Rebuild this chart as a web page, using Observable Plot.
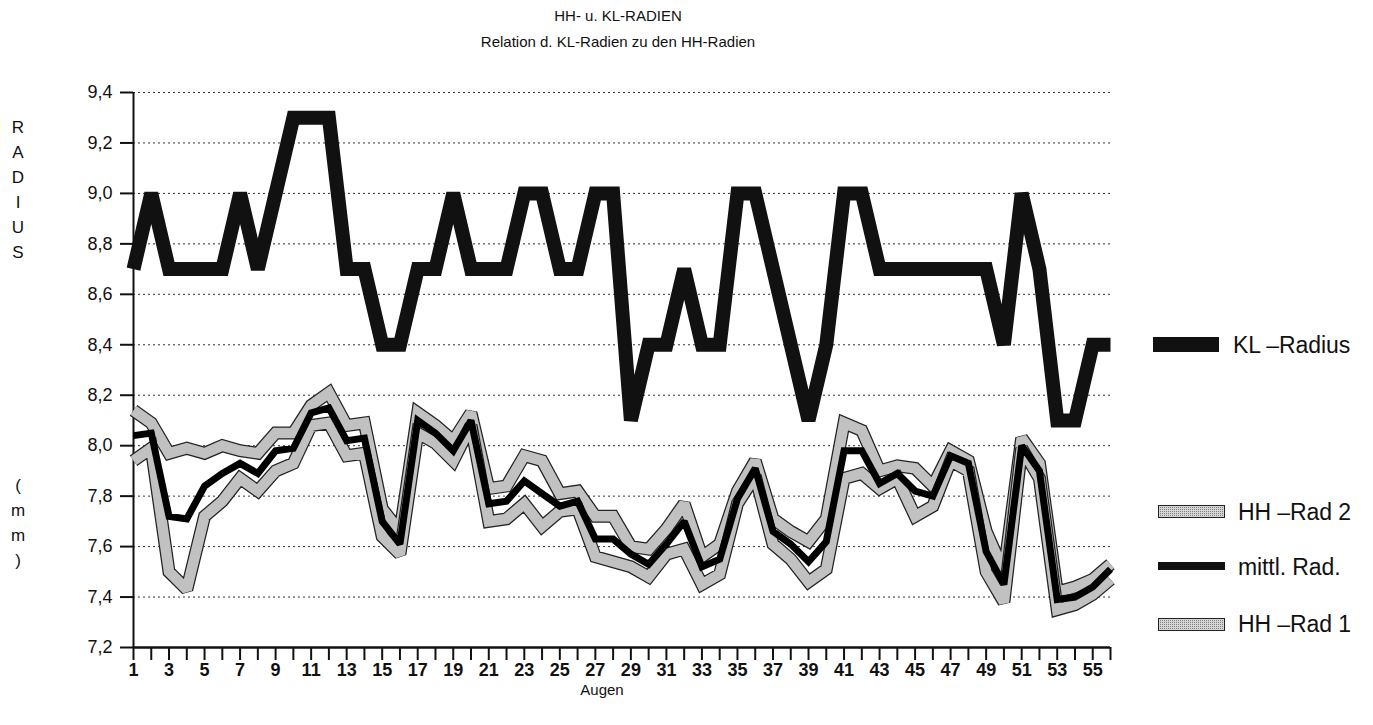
<!DOCTYPE html>
<html><head><meta charset="utf-8">
<script src="https://cdn.jsdelivr.net/npm/d3@7"></script>
<script src="https://cdn.jsdelivr.net/npm/@observablehq/plot@0.6"></script>
<style>
body{margin:0;background:#fff;font-family:"Liberation Sans",Arial,sans-serif;color:#111;}
#wrap{position:relative;width:1373px;height:725px;overflow:hidden;}
.t{position:absolute;left:418px;width:400px;text-align:center;font-size:15px;line-height:18px;}
.yl{position:absolute;left:8px;width:20px;text-align:center;font-size:17px;line-height:18px;}
#chart{position:absolute;left:0;top:60px;}
.leg{position:absolute;font-size:23px;line-height:26px;letter-spacing:-0.1px;}
.sw{position:absolute;}
</style></head><body>
<svg width="0" height="0" style="position:absolute">
 <defs>
  <pattern id="stip" width="2" height="2" patternUnits="userSpaceOnUse">
   <rect width="2" height="2" fill="#d6d6d6"/>
   <rect width="1" height="1" fill="#808080"/>
  </pattern>
 </defs>
</svg>
<div id="wrap">
 <div class="t" style="top:7px">HH- u. KL-RADIEN</div>
 <div class="t" style="top:33px">Relation d. KL-Radien zu den HH-Radien</div>
 <div id="ytitle"></div>
 <div id="chart"></div>
 <div class="t" style="top:681px;left:402px">Augen</div>
 <div id="legend"></div>
</div>
<script>
// ---- data ----
const augen = [1,2,3,4,5,6,7,8,9,10,11,12,13,14,15,16,17,18,19,20,21,22,23,24,25,26,27,28,29,30,31,32,33,34,35,36,37,38,39,40,41,42,43,44,45,46,47,48,49,50,51,52,53,54,55,56];
const klRadius = [8.7,9.0,8.7,8.7,8.7,8.7,9.0,8.7,9.0,9.3,9.3,9.3,8.7,8.7,8.4,8.4,8.7,8.7,9.0,8.7,8.7,8.7,9.0,9.0,8.7,8.7,9.0,9.0,8.1,8.4,8.4,8.7,8.4,8.4,9.0,9.0,8.7,8.4,8.1,8.4,9.0,9.0,8.7,8.7,8.7,8.7,8.7,8.7,8.7,8.4,9.0,8.7,8.1,8.1,8.4,8.4];
const hhRad2 = [8.14,8.09,7.97,7.99,7.97,8.00,7.98,7.97,8.05,8.05,8.16,8.21,8.08,8.09,7.75,7.66,8.13,8.08,8.02,8.13,7.83,7.84,7.96,7.94,7.81,7.82,7.72,7.72,7.60,7.59,7.67,7.77,7.56,7.61,7.82,7.94,7.71,7.66,7.62,7.71,8.09,8.06,7.90,7.92,7.91,7.84,7.98,7.94,7.66,7.50,8.03,7.93,7.42,7.44,7.47,7.53];
const mittlRad = [8.04,8.05,7.72,7.71,7.84,7.89,7.93,7.89,7.98,7.99,8.13,8.15,8.02,8.03,7.70,7.61,8.10,8.05,7.98,8.10,7.77,7.78,7.86,7.81,7.76,7.78,7.63,7.63,7.57,7.53,7.61,7.70,7.52,7.55,7.79,7.91,7.66,7.61,7.54,7.62,7.98,7.98,7.85,7.89,7.82,7.80,7.96,7.93,7.58,7.45,8.00,7.90,7.39,7.40,7.44,7.51];
const hhRad1 = [7.94,7.99,7.50,7.43,7.72,7.78,7.87,7.82,7.90,7.93,8.08,8.09,7.96,7.97,7.64,7.57,8.05,8.01,7.94,8.08,7.70,7.71,7.77,7.68,7.74,7.75,7.56,7.54,7.52,7.48,7.57,7.59,7.45,7.49,7.77,7.88,7.61,7.55,7.46,7.51,7.87,7.89,7.83,7.87,7.72,7.76,7.94,7.90,7.50,7.38,7.99,7.87,7.35,7.37,7.41,7.47];
const yTicks = [7.2,7.4,7.6,7.8,8.0,8.2,8.4,8.6,8.8,9.0,9.2,9.4];
const gridVals = [7.4,7.6,7.8,8.0,8.2,8.4,8.6,8.8,9.0,9.2,9.4];
const xTickLabels = [1,3,5,7,9,11,13,15,17,19,21,23,25,27,29,31,33,35,37,39,41,43,45,47,49,51,53,55];
const yTitleTop = ["R","A","D","I","U","S"];
const yTitleBottom = ["(","m","m",")"];
const legendItems = ["KL \u2013Radius","HH \u2013Rad 2","mittl. Rad.","HH \u2013Rad 1"];

const rows = augen.map((a, i) => ({a, kl: klRadius[i], h2: hhRad2[i], m: mittlRad[i], h1: hhRad1[i]}));
const fmt = d => d.toFixed(1).replace(".", ",");

function band(key) {
  return [
    Plot.lineY(rows, {x: "a", y: key, stroke: "#222", strokeWidth: 13, strokeLinecap: "butt", strokeLinejoin: "miter", strokeMiterlimit: 2}),
    Plot.lineY(rows, {x: "a", y: key, stroke: "url(#stip)", strokeWidth: 10.5, strokeLinecap: "butt", strokeLinejoin: "miter", strokeMiterlimit: 2})
  ];
}

const chart = Plot.plot({
  width: 1140, height: 627,
  marginTop: 32, marginBottom: 40, marginLeft: 133, marginRight: 30,
  x: {domain: [1, 56]},
  y: {domain: [7.2, 9.4]},
  style: {fontFamily: "'Liberation Sans', Arial, sans-serif", background: "transparent", overflow: "visible", color: "#111"},
  marks: [
    Plot.ruleY(gridVals, {stroke: "#333", strokeWidth: 1, strokeDasharray: "2,3"}),
    Plot.axisY({ticks: yTicks, tickFormat: fmt, tickSize: 13, tickPadding: 8, fontSize: 18, strokeWidth: 2, label: null}),
    Plot.axisX({ticks: augen, tickFormat: d => xTickLabels.includes(d) ? String(d) : "", tickSize: 13, tickPadding: 3, fontSize: 18, fontWeight: "bold", strokeWidth: 2, label: null}),
    Plot.ruleX([1], {strokeWidth: 2}),
    Plot.ruleY([7.2], {strokeWidth: 2.5}),
    Plot.lineY(rows, {x: "a", y: "kl", stroke: "#111", strokeWidth: 14, strokeLinecap: "butt", strokeLinejoin: "miter", strokeMiterlimit: 1.6}),
    ...band("h2"),
    ...band("h1"),
    Plot.lineY(rows, {x: "a", y: "m", stroke: "#000", strokeWidth: 7, strokeLinecap: "butt", strokeLinejoin: "miter", strokeMiterlimit: 2})
  ]
});
document.getElementById("chart").appendChild(chart);

// y-axis title (stacked letters)
const yt = document.getElementById("ytitle");
yTitleTop.forEach((c, i) => {
  const d = document.createElement("div"); d.className = "yl"; d.textContent = c;
  d.style.top = (119 + i * 25) + "px"; yt.appendChild(d);
});
yTitleBottom.forEach((c, i) => {
  const d = document.createElement("div"); d.className = "yl"; d.textContent = c;
  d.style.top = (477 + i * 25) + "px"; yt.appendChild(d);
});

// legend
const lg = document.getElementById("legend");
const legPos = [
  {sx: 1153, sy: 337, sw: 66, sh: 15, type: "kl", tx: 1233, ty: 332},
  {sx: 1158, sy: 505, sw: 67, sh: 13, type: "band", tx: 1238, ty: 499},
  {sx: 1158, sy: 562, sw: 67, sh: 8, type: "mean", tx: 1238, ty: 554},
  {sx: 1158, sy: 618, sw: 67, sh: 13, type: "band", tx: 1238, ty: 611}
];
legendItems.forEach((label, i) => {
  const p = legPos[i];
  const s = document.createElementNS("http://www.w3.org/2000/svg", "svg");
  s.setAttribute("class", "sw"); s.setAttribute("width", p.sw); s.setAttribute("height", p.sh);
  s.style.left = p.sx + "px"; s.style.top = p.sy + "px";
  const r = document.createElementNS("http://www.w3.org/2000/svg", "rect");
  if (p.type === "band") {
    r.setAttribute("x", 0.5); r.setAttribute("y", 0.5); r.setAttribute("width", p.sw - 1); r.setAttribute("height", p.sh - 1);
    r.setAttribute("fill", "url(#stip)"); r.setAttribute("stroke", "#222");
  } else {
    r.setAttribute("width", p.sw); r.setAttribute("height", p.sh); r.setAttribute("fill", "#111");
  }
  s.appendChild(r); lg.appendChild(s);
  const t = document.createElement("div"); t.className = "leg"; t.textContent = label;
  t.style.left = p.tx + "px"; t.style.top = p.ty + "px"; lg.appendChild(t);
});
</script>
</body></html>
